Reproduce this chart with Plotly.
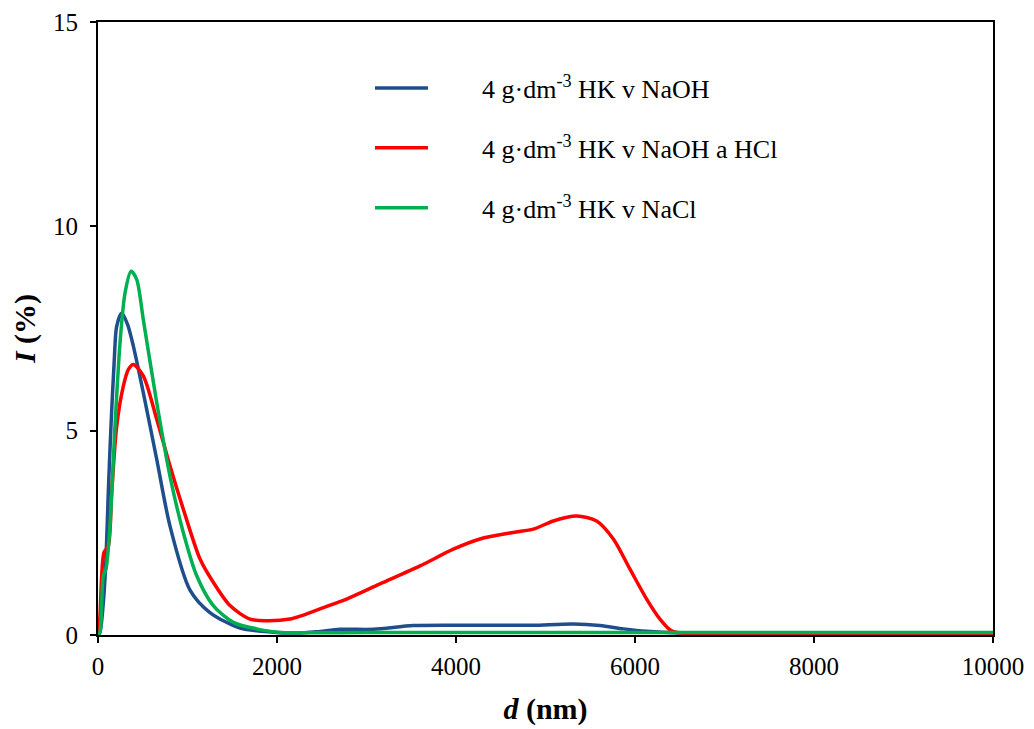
import plotly.graph_objects as go

# ---- data ----
d_naoh = [0, 22, 60, 89, 115, 145, 182, 209, 265, 330, 395, 506, 656, 804, 1028, 1251, 1587, 1955,
          2200, 2443, 2704, 3076, 3523, 4000, 4500, 4860, 5310, 5609, 5870, 6130, 6500, 7000, 8000, 9000, 10000]
i_naoh = [0, 0.07, 0.8, 1.86, 3.49, 5.11, 6.74, 7.56, 7.88, 7.6, 7.07, 5.93, 4.30, 2.67, 1.10, 0.55, 0.17, 0.07,
          0.05, 0.08, 0.14, 0.14, 0.23, 0.24, 0.24, 0.24, 0.27, 0.23, 0.15, 0.09, 0.05, 0.05, 0.05, 0.05, 0.05]

d_naoh_hcl = [0, 22, 41, 67, 115, 153, 209, 283, 340, 395, 506, 656, 804, 953, 1140, 1288, 1475, 1698, 1884,
              2145, 2257, 2480, 2778, 3151, 3598, 3970, 4268, 4640, 4864, 5087, 5348, 5571, 5758, 5944, 6130,
              6279, 6409, 6600, 7000, 8000, 9000, 10000]
i_naoh_hcl = [0, 0.47, 1.45, 2.02, 2.18, 3.49, 5.11, 6.09, 6.5, 6.62, 6.34, 5.28, 4.14, 3.08, 1.86, 1.29, 0.72,
              0.39, 0.35, 0.39, 0.46, 0.64, 0.88, 1.25, 1.69, 2.10, 2.35, 2.51, 2.59, 2.79, 2.91, 2.79, 2.35,
              1.61, 0.88, 0.39, 0.1, 0.03, 0.03, 0.03, 0.03, 0.03]

d_nacl = [0, 22, 59, 89, 134, 190, 246, 302, 369, 432, 506, 656, 804, 953, 1103, 1288, 1512, 1773, 2000,
          3000, 4000, 5000, 6000, 7000, 8000, 9000, 10000]
i_nacl = [0, 0.07, 1.45, 1.61, 2.67, 5.11, 7.15, 8.37, 8.90, 8.70, 7.72, 5.69, 3.89, 2.51, 1.45, 0.72, 0.31,
          0.15, 0.07, 0.06, 0.06, 0.06, 0.06, 0.06, 0.06, 0.06, 0.06]

series_names = ["4 g·dm<sup>-3</sup> HK v NaOH",
                "4 g·dm<sup>-3</sup> HK v NaOH a HCl",
                "4 g·dm<sup>-3</sup> HK v NaCl"]
colors = ["#1F4E8C", "#FF0000", "#00B050"]

x_ticks = [0, 2000, 4000, 6000, 8000, 10000]
y_ticks = [0, 5, 10, 15]

FONT = "Liberation Serif, Times New Roman, serif"

fig = go.Figure()
for xs, ys, name, c in zip([d_naoh, d_naoh_hcl, d_nacl], [i_naoh, i_naoh_hcl, i_nacl], series_names, colors):
    fig.add_trace(go.Scatter(x=xs, y=ys, mode="lines", name=name,
                             line=dict(color=c, width=3.5, shape="spline", smoothing=0.8),
                             showlegend=False, cliponaxis=False))

# manual legend (line sample + label)
leg_y = [0.8925, 0.7948, 0.6971]
for name, c, yy in zip(series_names, colors, leg_y):
    fig.add_shape(type="line", xref="paper", yref="paper", x0=0.3095, x1=0.3687, y0=yy, y1=yy,
                  line=dict(color=c, width=3.5))
    fig.add_annotation(xref="paper", yref="paper", x=0.4268, y=yy, xanchor="left", yanchor="middle",
                       text=name, showarrow=False, font=dict(family=FONT, size=26, color="black"))

fig.update_layout(
    width=1034, height=729,
    margin=dict(l=90, r=49, t=14, b=102),
    paper_bgcolor="white", plot_bgcolor="white",
    font=dict(family=FONT, size=25, color="black"),
)
fig.update_xaxes(range=[0, 10000], tickvals=x_ticks, ticktext=[str(v) for v in x_ticks],
                 showgrid=False, zeroline=False, showline=True, linecolor="black", linewidth=2,
                 mirror=True, ticks="outside", ticklen=6, tickwidth=2, tickcolor="black",
                 ticklabelstandoff=2, automargin=False,
                 title=dict(text="<b><i>d</i> (nm)</b>", font=dict(family=FONT, size=30), standoff=19))
fig.update_yaxes(range=[0, 15], tickvals=y_ticks, ticktext=[str(v) for v in y_ticks],
                 showgrid=False, zeroline=False, showline=True, linecolor="black", linewidth=2,
                 mirror=True, ticks="outside", ticklen=6, tickwidth=2, tickcolor="black",
                 ticklabelstandoff=7, automargin=False,
                 title=dict(text="<b><i>I</i> (%)</b>", font=dict(family=FONT, size=30), standoff=10))

fig.write_html("out.html")
